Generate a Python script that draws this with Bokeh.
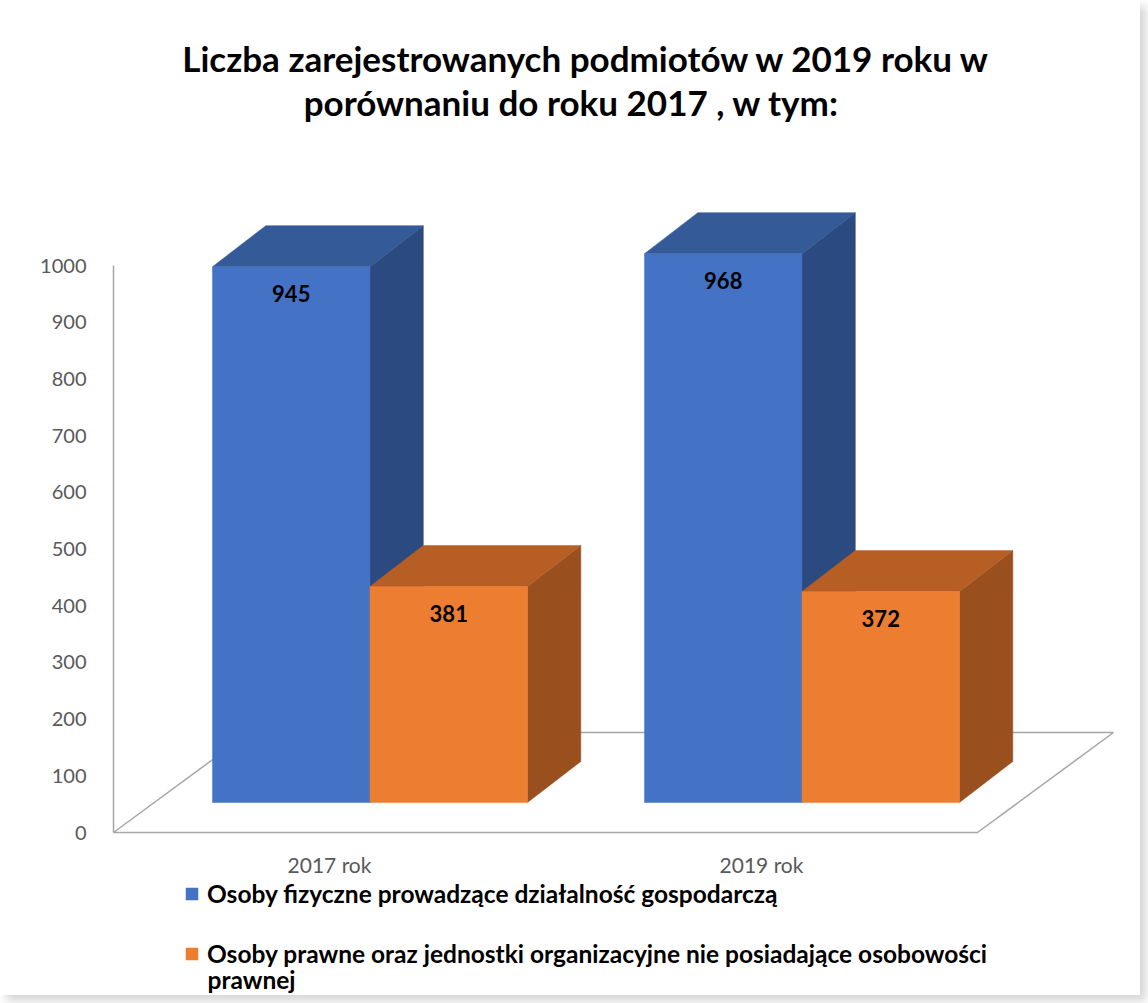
from bokeh.plotting import figure
from bokeh.models import Range1d, LinearAxis, FixedTicker, Legend, LegendItem
from bokeh.core.properties import value
from bokeh.embed import file_html
from bokeh.resources import INLINE

# ---------------- data ----------------
categories = ["2017 rok", "2019 rok"]
series_names = [
    "Osoby fizyczne prowadzące działalność gospodarczą",
    "Osoby prawne oraz jednostki organizacyjne nie posiadające osobowości",
]
series_name_cont = "prawnej"
fizyczne = [945, 968]
prawne = [381, 372]
y_ticks = [0, 100, 200, 300, 400, 500, 600, 700, 800, 900, 1000]
title_lines = [
    "Liczba zarejestrowanych podmiotów w 2019 roku w",
    "porównaniu do roku 2017 , w tym:",
]

# ---------------- styles ----------------
FRONT = ["#4472C4", "#ED7D31"]
TOP = ["#345A97", "#B65E24"]
SIDE = ["#2B4A80", "#994F1E"]
FONT = "Lato"

# ---------------- geometry (picture pixels -> data) ----------------
W, H = 1140, 995
LEFT = 113
PX_PER_CAT = 432.0
PX_PER_UNIT = 0.567
X0_PAGE, Y0_PAGE = 329.0, 832.0


def xd(px):
    return (px - X0_PAGE) / PX_PER_CAT


def yd(py):
    return (Y0_PAGE - py) / PX_PER_UNIT


BW = 157.5 / PX_PER_CAT          # bar width
FRONT_DX = 40.5 / PX_PER_CAT     # perspective shift of bar fronts
BASE = 30.0 / PX_PER_UNIT        # bars stand back from the floor front edge
DX = 53.3 / PX_PER_CAT           # bar depth
DY = 41.0 / PX_PER_UNIT
FDX = 136.0 / PX_PER_CAT         # floor depth
FDY = 100.0 / PX_PER_UNIT
LABEL_DROP = 27.0 / PX_PER_UNIT

p = figure(
    width=W, height=H, output_backend="svg", toolbar_location=None,
    x_range=Range1d(xd(LEFT), xd(W)),
    y_range=Range1d(yd(H), yd(0)),
    min_border_left=LEFT, min_border_right=0, min_border_top=0, min_border_bottom=0,
    x_axis_location=None, y_axis_location=None,
)
p.grid.visible = False
p.outline_line_color = None
p.background_fill_color = "white"
p.border_fill_color = "white"
p.styles = {"box-shadow": "-2px -2px 2px #d4d4d4, 6px 6px 9px #d6d6d6"}

yaxis = LinearAxis(
    ticker=FixedTicker(ticks=y_ticks), bounds=(y_ticks[0], y_ticks[-1]),
    axis_line_color="#A6A6A6", axis_line_width=1.5,
    major_tick_line_color=None, minor_tick_line_color=None,
    major_label_standoff=21,
    major_label_text_font=FONT, major_label_text_font_size="20px",
    major_label_text_color="#595959",
)
p.add_layout(yaxis, "left")

# floor
n = len(categories)
fx0, fx1 = -0.5, n - 0.5
p.patch([fx0, fx1, fx1 + FDX, fx0 + FDX], [0, 0, FDY, FDY],
        fill_color=None, line_color="#A6A6A6", line_width=1.5)

front_renderers = []
for s, vals in enumerate([fizyczne, prawne]):
    centers = [i + FRONT_DX + (s - 0.5) * BW for i in range(n)]
    tops = [BASE + v for v in vals]
    x0s = [c - BW / 2 for c in centers]
    x1s = [c + BW / 2 for c in centers]
    side_xs = [[a, a + DX, a + DX, a] for a in x1s]
    side_ys = [[BASE, BASE + DY, t + DY, t] for t in tops]
    top_xs = [[a, a + DX, b + DX, b] for a, b in zip(x0s, x1s)]
    top_ys = [[t, t + DY, t + DY, t] for t in tops]
    p.patches(side_xs, side_ys, fill_color=SIDE[s], line_color=SIDE[s], line_width=0.5)
    p.patches(top_xs, top_ys, fill_color=TOP[s], line_color=TOP[s], line_width=0.5)
    r = p.vbar(x=centers, width=BW, bottom=BASE, top=tops,
               fill_color=FRONT[s], line_color=FRONT[s], line_width=0.5)
    front_renderers.append(r)
    p.text(x=centers, y=[t - LABEL_DROP for t in tops], text=[str(v) for v in vals],
           text_align="center", text_baseline="middle",
           text_font=value(FONT), text_font_style="bold", text_font_size="22px",
           text_color="black")

# category labels
p.text(x=list(range(n)), y=[yd(864)] * n, text=categories,
       text_align="center", text_baseline="middle",
       text_font=value(FONT), text_font_size="21px", text_color="#595959")

# title
p.text(x=[xd(586), xd(571)], y=[yd(57), yd(101)], text=title_lines,
       text_align="center", text_baseline="middle",
       text_font=value(FONT), text_font_style="bold", text_font_size="35px",
       text_color="black")

legend = Legend(
    items=[LegendItem(label=series_names[i], renderers=[front_renderers[i]]) for i in range(2)],
    location=(71, 27), orientation="vertical",
    glyph_width=15, glyph_height=15, label_standoff=8, spacing=31,
    padding=0, margin=0, border_line_color=None, background_fill_alpha=0,
    label_text_font=FONT, label_text_font_style="bold", label_text_font_size="24.5px",
    label_text_color="black",
)
p.add_layout(legend)

# wrapped continuation of the second legend entry
p.text(x=[xd(207)], y=[yd(979)], text=[series_name_cont],
       text_align="left", text_baseline="middle",
       text_font=value(FONT), text_font_style="bold", text_font_size="24.5px",
       text_color="black")

open("out.html", "w").write(file_html(p, INLINE))
